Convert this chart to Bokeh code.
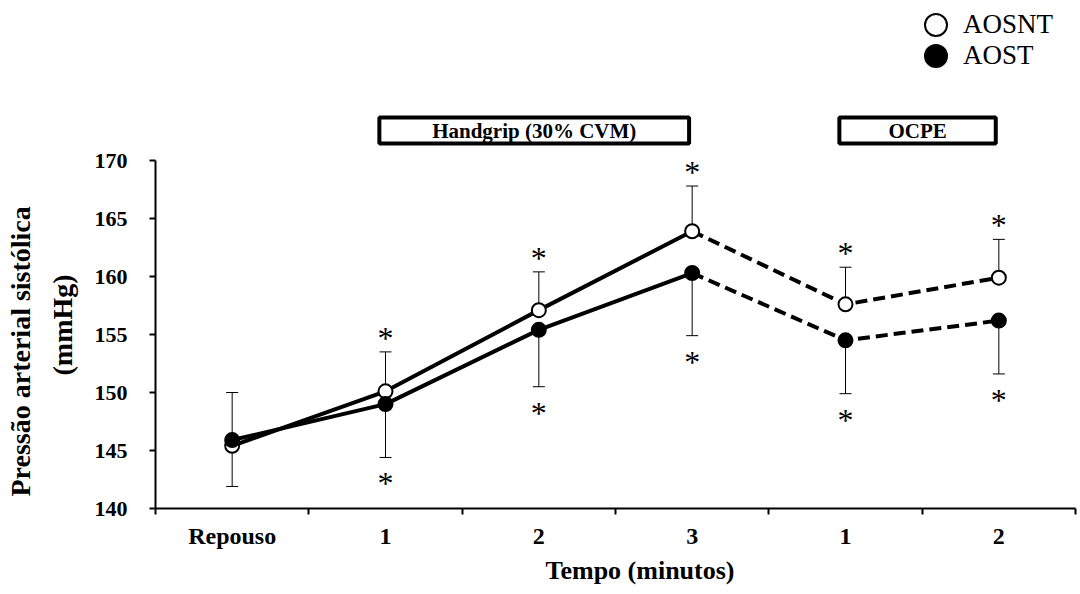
from bokeh.plotting import figure
from bokeh.models import (Range1d, FixedTicker, ColumnDataSource, Whisker, TeeHead,
                          Title, Legend, LegendItem)
from bokeh.core.properties import value
from bokeh.embed import file_html
from bokeh.resources import INLINE

# ---------------- data ----------------
categories = ["Repouso", "1", "2", "3", "1", "2"]
aosnt_mean = [145.4, 150.1, 157.1, 163.9, 157.6, 159.9]
aosnt_sd = [4.6, 3.4, 3.3, 3.9, 3.2, 3.3]
aost_mean = [145.9, 149.0, 155.4, 160.3, 154.5, 156.2]
aost_sd = [4.0, 4.6, 4.9, 5.4, 4.6, 4.6]
aosnt_sig = [False, True, True, True, True, True]
aost_sig = [False, True, True, True, True, True]
y_ticks = [140, 145, 150, 155, 160, 165, 170]
phase_labels = ["Handgrip (30% CVM)", "OCPE"]
phase_first = [1, 4]
phase_last = [3, 5]
solid_idx = [0, 1, 2, 3]
dashed_idx = [3, 4, 5]

# ---------------- layout ----------------
W, H = 1080, 594
FL, FR, FT, FB = 155, 5, 0, 86          # frame borders (px)
FW, FH = W - FL - FR, H - FT - FB
Y0, Y1 = 140, 170
PX_170 = 160                              # canvas px of y=170
Y_TOP = Y0 + (Y1 - Y0) * FH / (FH + FT - PX_170)
NCAT = len(categories)


def dy(py):
    return Y0 + (FT + FH - py) / FH * (Y_TOP - Y0)


FONT = "Liberation Serif"
xs = [i + 0.5 for i in range(NCAT)]

p = figure(width=W, height=H, x_range=Range1d(0, NCAT), y_range=Range1d(Y0, Y_TOP),
           output_backend="svg", toolbar_location=None, title=None,
           min_border_left=FL, min_border_right=FR, min_border_top=FT, min_border_bottom=FB)
p.outline_line_color = None
p.grid.visible = False
p.background_fill_color = "white"
p.border_fill_color = "white"

# x axis
xa = p.xaxis[0]
xa.ticker = FixedTicker(ticks=xs, minor_ticks=list(range(NCAT + 1)))
xa.major_label_overrides = {x: c for x, c in zip(xs, categories)}
xa.bounds = (0, NCAT)
xa.major_tick_out = 0
xa.major_tick_in = 0
xa.minor_tick_out = 6
xa.minor_tick_in = 0
xa.minor_tick_line_width = 2
xa.minor_tick_line_color = "black"
xa.axis_line_width = 2
xa.axis_line_color = "black"
xa.major_label_text_font = FONT
xa.major_label_text_font_style = "bold"
xa.major_label_text_font_size = "24px"
xa.major_label_text_color = "black"
xa.major_label_standoff = 8

# y axis
ya = p.yaxis[0]
ya.ticker = FixedTicker(ticks=y_ticks, minor_ticks=[])
ya.bounds = (Y0, Y1)
ya.major_tick_out = 6
ya.major_tick_in = 0
ya.major_tick_line_width = 2
ya.major_tick_line_color = "black"
ya.minor_tick_out = 0
ya.minor_tick_in = 0
ya.axis_line_width = 2
ya.axis_line_color = "black"
ya.major_label_text_font = FONT
ya.major_label_text_font_style = "bold"
ya.major_label_text_font_size = "22px"
ya.major_label_text_color = "black"
ya.major_label_standoff = 22

# error bars
src_nt = ColumnDataSource(dict(x=xs, base=aosnt_mean,
                               upper=[m + s for m, s in zip(aosnt_mean, aosnt_sd)]))
src_t = ColumnDataSource(dict(x=xs, base=aost_mean,
                              lower=[m - s for m, s in zip(aost_mean, aost_sd)]))
p.add_layout(Whisker(source=src_nt, base="x", lower="base", upper="upper",
                     upper_head=TeeHead(size=12, line_width=1, line_color="black"),
                     lower_head=None, line_width=1, line_color="black", level="underlay"))
p.add_layout(Whisker(source=src_t, base="x", lower="lower", upper="base",
                     lower_head=TeeHead(size=12, line_width=1, line_color="black"),
                     upper_head=None, line_width=1, line_color="black", level="underlay"))

# lines
for mean in (aosnt_mean, aost_mean):
    p.line([xs[i] for i in solid_idx], [mean[i] for i in solid_idx],
           line_width=4, line_color="black")
    p.line([xs[i] for i in dashed_idx], [mean[i] for i in dashed_idx],
           line_width=4, line_color="black", line_dash="12 6")

# markers
r_open = p.scatter(xs, aosnt_mean, size=14, marker="circle", fill_color="white",
                   line_color="black", line_width=2)
r_fill = p.scatter(xs, aost_mean, size=14, marker="circle", fill_color="black",
                   line_color="black", line_width=2)

# significance stars
up_x = [x for x, s in zip(xs, aosnt_sig) if s]
up_y = [m + s for m, s, g in zip(aosnt_mean, aosnt_sd, aosnt_sig) if g]
lo_x = [x for x, s in zip(xs, aost_sig) if s]
lo_y = [m - s for m, s, g in zip(aost_mean, aost_sd, aost_sig) if g]
p.text(x=up_x, y=up_y, text=["*"] * len(up_x), text_font=value(FONT),
       text_font_size="32px", text_align="center", text_baseline="alphabetic",
       y_offset=-14, text_color="black")
p.text(x=lo_x, y=lo_y, text=["*"] * len(lo_x), text_font=value(FONT),
       text_font_size="32px", text_align="center", text_baseline="alphabetic",
       y_offset=26, text_color="black")

# phase boxes
BOX_TOP, BOX_BOT = dy(117), dy(143)
bl = [f + 0.46 for f in phase_first]
br = [l + 0.48 for l in phase_last]
p.quad(left=bl, right=br, top=BOX_TOP, bottom=BOX_BOT, fill_color="white",
       line_color="black", line_width=4)
p.text(x=[(a + b) / 2 for a, b in zip(bl, br)], y=[(BOX_TOP + BOX_BOT) / 2] * len(bl),
       text=phase_labels, text_font=value(FONT), text_font_style="bold",
       text_font_size="21px", text_align="center", text_baseline="middle",
       text_color="black")

# axis titles (as side-panel titles so they are not clipped)
p.add_layout(Title(text="Tempo (minutos)", align="left", offset=390,
                   text_font=FONT, text_font_style="bold", text_font_size="26px",
                   text_color="black", standoff=5), "below")
p.add_layout(Title(text="(mmHg)", align="left", offset=133, vertical_align="top",
                   text_font=FONT, text_font_style="bold", text_font_size="28px",
                   text_color="black", standoff=23), "left")
p.add_layout(Title(text="Pressão arterial sistólica", align="left", offset=12,
                   text_font=FONT, text_font_style="bold", text_font_size="28px",
                   text_color="black", standoff=0), "left")

# legend (one per row for tight vertical spacing)
for lbl, r, vy in (("AOSNT", r_open, 456), ("AOST", r_fill, 425)):
    leg = Legend(items=[LegendItem(label=lbl, renderers=[r])],
                 location=(753, vy), glyph_width=55, glyph_height=55,
                 padding=0, margin=0, label_standoff=0, label_text_font=FONT,
                 label_text_font_size="27px", label_text_color="black",
                 border_line_color=None, background_fill_alpha=0)
    p.add_layout(leg)

open("out.html", "w").write(file_html(p, INLINE))
